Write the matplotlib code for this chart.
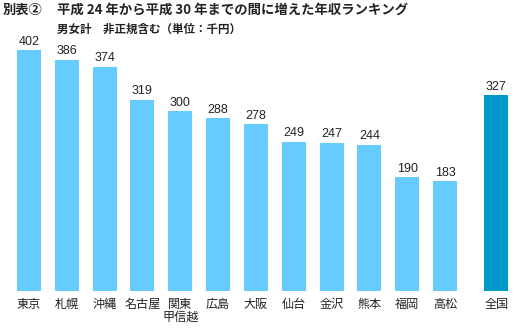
import numpy as np
import matplotlib.pyplot as plt

plt.rcParams['font.family'] = ['Noto Sans CJK JP', 'DejaVu Sans']

regions = ['東京', '札幌', '沖縄', '名古屋', '関東\n甲信越', '広島', '大阪',
           '仙台', '金沢', '熊本', '福岡', '高松']
values = [402, 386, 374, 319, 300, 288, 278, 249, 247, 244, 190, 183]
total_label = '全国'
total_value = 327

light = '#66CCFF'
dark = '#0099CC'

fig = plt.figure(figsize=(5.3, 3.3), dpi=100)
ax = fig.add_axes([0.0189, 0.118, 0.953, 0.818])

x = np.arange(len(regions))
x_total = 12.35
bw = 0.635

ax.bar(x, values, width=bw, color=light)
ax.bar([x_total], [total_value], width=bw, color=dark)

for xi, v in zip(list(x) + [x_total], values + [total_value]):
    ax.text(xi, v + 4, str(v), ha='center', va='bottom', fontsize=9,
            family=['Liberation Sans'], color='#222222')

ax.set_xlim(-0.5, x_total + 0.5)
ax.set_ylim(0, 450)
ax.set_xticks(list(x) + [x_total])
ax.set_xticklabels(regions + [total_label], fontsize=8.7, color='#222222',
                   linespacing=1.0)
ax.tick_params(axis='x', length=0, pad=5)
ax.set_yticks([])
for s in ax.spines.values():
    s.set_visible(False)

fig.text(3 / 530, 1 - 10 / 330, '別表②', fontsize=9.5, fontweight='bold',
         va='center', ha='left', color='#222222')
fig.text(57 / 530, 1 - 10 / 330, '平成 24 年から平成 30 年までの間に増えた年収ランキング',
         fontsize=9.6, fontweight='bold', va='center', ha='left', color='#222222')
fig.text(57 / 530, 1 - 29 / 330, '男女計　非正規含む（単位：千円）',
         fontsize=8.3, fontweight='bold', va='center', ha='left', color='#222222')

fig.savefig('out.png', dpi=100)
